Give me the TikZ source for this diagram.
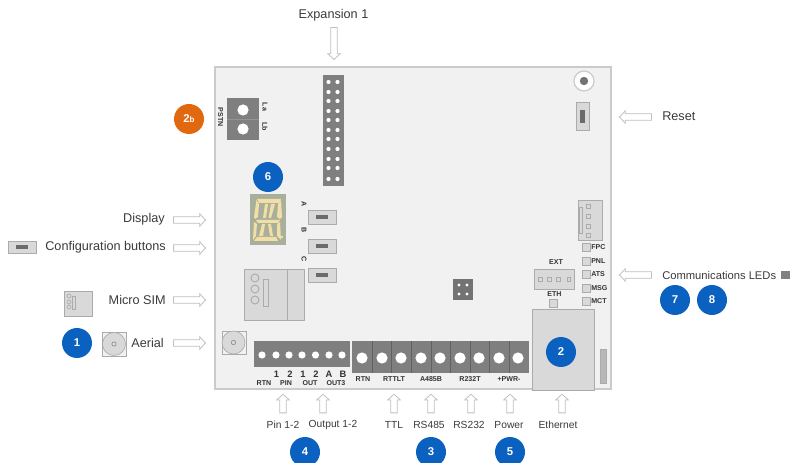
\documentclass[tikz,border=0pt]{standalone}
\usepackage{fontspec}
\setmainfont{Liberation Sans}
\usetikzlibrary{shapes.arrows}
\definecolor{txt}{HTML}{3A3A3A}
\definecolor{boardfill}{HTML}{F1F1F1}
\definecolor{boardedge}{HTML}{CBCBCB}
\definecolor{term}{HTML}{7F7F7F}
\definecolor{partfill}{HTML}{D9D9D9}
\definecolor{partedge}{HTML}{ABABAB}
\definecolor{badgeblue}{HTML}{0B61BF}
\definecolor{badgeorange}{HTML}{E2680F}
\definecolor{dispbg}{HTML}{A8B09C}
\definecolor{segm}{HTML}{F3DFA6}
\tikzset{
  x=0.75pt,y=-0.75pt,
  bigtext/.style={text=txt,font=\fontsize{9.5pt}{11pt}\selectfont,inner sep=0pt},
  smalltext/.style={text=txt,font=\fontsize{7.7pt}{9pt}\selectfont,inner sep=0pt},
  tiny/.style={text=black!80,font=\bfseries\fontsize{5.3pt}{6pt}\selectfont,inner sep=0pt},
  pinnum/.style={text=black!80,font=\bfseries\fontsize{7pt}{8pt}\selectfont,inner sep=0pt},
  badge/.style={circle,fill=badgeblue,text=white,minimum size=22.5pt,inner sep=0pt,font=\bfseries\fontsize{8.5pt}{9pt}\selectfont},
  blockarrow/.style={single arrow,draw=partedge!75,fill=white,line width=0.6pt,inner xsep=0pt,inner ysep=2.1pt,
    minimum height=#1,single arrow head extend=2.3pt,single arrow tip angle=95},
  blockarrow/.default=24pt,
  part/.style={draw=partedge,fill=partfill,line width=0.7pt},
  hole/.style={fill=white},
  seg/.style={fill=segm},
}
\newcommand{\cfgbutton}[2]{%
  \path[part] (#1,#2) rectangle ++(28,14);
  \fill[black!58] (#1+8,#2+5) rectangle ++(12,4);
}
\begin{document}
\begin{tikzpicture}
\useasboundingbox (0,0) rectangle (793,463);
% board
\path[fill=boardfill,draw=boardedge,line width=0.9pt] (215,67) rectangle (611,389);
% expansion header
\fill[term] (323,75) rectangle (344,186);
\foreach \y in {82,92,101,111,120,130,139,149,159,168,179}{
  \fill[hole] (328.5,\y) circle (2.1);
  \fill[hole] (337.5,\y) circle (2.1);
}
% PSTN
\fill[term] (227,98) rectangle (259,140);
\draw[black!42,line width=0.6pt] (227,119) -- (259,119);
\fill[hole] (243,110) circle (5.6);
\fill[hole] (243,129) circle (5.6);
\node[tiny,rotate=-90] (pstn) at (220.5,117) {PSTN};
\node[tiny,rotate=-90] (la) at (265,107) {La};
\node[tiny,rotate=-90] (lb) at (265,127) {Lb};
% display
\fill[dispbg] (250,194) rectangle (286,245);
\begin{scope}
  \fill[seg] (257,199) -- (281,199) -- (279,203) -- (259,203) -- cycle;
  \fill[seg] (256.5,200) -- (259,204) -- (258,217) -- (255,219) -- (254,217) -- cycle;
  \fill[seg] (281,200) -- (282,217) -- (280,219) -- (277,217) -- (278,204) -- cycle;
  \fill[seg] (256,220) -- (280,220) -- (278,223) -- (258,223) -- cycle;
  \fill[seg] (254,222) -- (257,224) -- (256,236) -- (253,240) -- cycle;
  \fill[seg] (280,222) -- (281,240) -- (277,236) -- (277,224) -- cycle;
  \fill[seg] (254,241) -- (278,241) -- (276,237) -- (257,237) -- cycle;
  \fill[seg] (265,204) -- (268,204) -- (266,218) -- (263,218) -- cycle;
  \fill[seg] (271,204) -- (275,204) -- (271,218) -- (268.5,218) -- cycle;
  \fill[seg] (262,224) -- (265,224) -- (263,236) -- (259,236) -- cycle;
  \fill[seg] (268,224) -- (271,224) -- (273,236) -- (270,236) -- cycle;
  \fill[seg] (282,237) circle (1.4);
\end{scope}
\node[badge] (b6) at (268,177) {6};
% config buttons
\cfgbutton{308}{210}
\cfgbutton{308}{239}
\cfgbutton{308}{268}
\node[tiny,rotate=-90] (ba) at (304,204) {A};
\node[tiny,rotate=-90] (bb) at (304,230) {B};
\node[tiny,rotate=-90] (bc) at (304,259) {C};
% SIM
\path[part] (244,269) rectangle (304,320);
\draw[partedge,line width=0.7pt] (287,269) -- (287,320);
\foreach \y in {278,289,300}{\draw[partedge,line width=0.7pt] (255,\y) circle (4);}
\draw[partedge,line width=0.7pt] (263,279) rectangle (268,306);
% aerial
\draw[partedge,fill=boardfill,line width=0.5pt] (222,331) rectangle (246,354);
\draw[partedge,fill=partfill,line width=0.5pt] (233.5,342.5) circle (11.5);
\draw[black!50,line width=0.4pt] (233.5,342.5) circle (2.2);
% terminal block left
\fill[term] (254,341) rectangle (350,367);
\foreach \x in {262,276,289,302,315.5,329,342}{\fill[hole] (\x,355) circle (3.6);}
\node[pinnum] (n1) at (276.5,374) {1};
\node[pinnum] (n2) at (290,374) {2};
\node[pinnum] (n3) at (303,374) {1};
\node[pinnum] (n4) at (316,374) {2};
\node[pinnum] (n5) at (329,374) {A};
\node[pinnum] (n6) at (343,374) {B};
\node[tiny] (t1) at (264,383) {RTN};
\node[tiny] (t2) at (286,383) {PIN};
\node[tiny] (t3) at (310,383) {OUT};
\node[tiny] (t4) at (336,383) {OUT3};
% terminal block right
\fill[term] (352,341) rectangle (529,373);
\foreach \x in {372,391.5,411,431,450,470,489,509}{\draw[black!62,line width=0.5pt] (\x,341) -- (\x,373);}
\foreach \x in {362,382,401,421,440,460,479,499,518}{\fill[hole] (\x,358) circle (5.6);}
\node[tiny] (t5) at (363,379) {RTN};
\node[tiny] (t6) at (394,379) {RTTLT};
\node[tiny] (t7) at (431,379) {A485B};
\node[tiny] (t8) at (470,379) {R232T};
\node[tiny] (t9) at (509,379) {+PWR-};
% ethernet
\path[part] (532,309) rectangle (594,390);
\draw[partedge,fill=black!28,line width=0.6pt] (600,349) rectangle (606,383);
\node[badge] (b2) at (561,352) {2};
% reset
\draw[boardedge,fill=white,line width=0.9pt] (584,81) circle (10);
\fill[black!55] (584,81) circle (4.2);
\path[part] (576,102) rectangle (589,130);
\fill[black!58] (580,110) rectangle (585,123);
% connector top right
\path[part] (578,200) rectangle (602,240);
\foreach \y in {206,216,226,235}{\draw[partedge,line width=0.5pt] (586,\y-2) rectangle ++(4,4);}
\draw[partedge,line width=0.6pt] (579,207) rectangle (582,233);
% LEDs
\foreach \y/\t/\n in {243/FPC/l1,257/PNL/l2,270/ATS/l3,284/MSG/l4,297/MCT/l5}{
  \draw[partedge,fill=partfill,line width=0.5pt] (582,\y) rectangle ++(8,8);
  \node[tiny,anchor=west] (\n) at (591,\y+4) {\t};
}
% EXT
\node[tiny] (ext) at (556,262) {EXT};
\path[part] (534,269) rectangle (574,289);
\foreach \x in {540.5,549.5,558.5,569}{\draw[partedge,line width=0.5pt] (\x-1.8,277.5) rectangle ++(3.6,3.6);}
\node[tiny] (eth) at (554.5,294) {ETH};
\draw[partedge,fill=partfill,line width=0.5pt] (549,299) rectangle (557,307);
% centre part
\fill[black!55] (453,279) rectangle (473,300);
\foreach \x/\y in {459/285,467/285,459/294,467/294}{\fill[hole] (\x,\y) circle (1.7);}
% top label
\node[bigtext] (exp) at (333.5,15) {Expansion 1};
\node[blockarrow,rotate=-90] (aexp) at (334,42) {};
% left labels
\node[bigtext,anchor=east] (lblD) at (165,219) {Display};
\node[blockarrow] (aD) at (188,220) {};
\node[bigtext,anchor=east] (lblC) at (166,247) {Configuration buttons};
\node[blockarrow] (aC) at (188,248) {};
\node[bigtext,anchor=east] (lblS) at (166,300) {Micro SIM};
\node[blockarrow] (aS) at (188,300) {};
\node[bigtext,anchor=east] (lblA) at (164,343) {Aerial};
\node[blockarrow] (aA) at (188,343) {};
\path[fill=partfill,draw=partedge,line width=0.7pt] (8,241) rectangle (36,253);
\fill[black!58] (16,245) rectangle (28,249);
\path[fill=partfill,draw=partedge,line width=0.7pt] (64,291) rectangle (92,316);
\foreach \y in {296,302,307}{\draw[partedge,line width=0.5pt] (69,\y) circle (2);}
\draw[partedge,line width=0.5pt] (72.5,296) rectangle (75.5,309);
\draw[partedge,fill=boardfill,line width=0.5pt] (102.5,332) rectangle (126,356);
\draw[partedge,fill=partfill,line width=0.5pt] (114,344) circle (11.5);
\draw[black!50,line width=0.4pt] (114,344) circle (2.2);
\node[badge] (b1) at (77,343) {1};
% PSTN badge
\node[badge,fill=badgeorange] (b2b) at (189,119) {2{\fontsize{6pt}{7pt}\selectfont b}};
% right labels
\node[blockarrow,rotate=180] (aR) at (637,117) {};
\node[bigtext,anchor=west] (lblR) at (662,116) {Reset};
\node[blockarrow,rotate=180] (aL) at (637,275) {};
\node[bigtext,anchor=west,font=\fontsize{8.4pt}{11pt}\selectfont] (lblL) at (662,275) {Communications LEDs};
\fill[black!50] (781,271) rectangle (790,279);
\node[badge] (b7) at (675,300) {7};
\node[badge] (b8) at (712,300) {8};
% bottom arrows and labels
\foreach \x/\n in {283/u1,323/u2,394/u3,431/u4,471/u5,510/u6,562/u7}{
  \node[blockarrow=14pt,rotate=90] (\n) at (\x,405) {};
}
\node[smalltext] (p1) at (283,425) {Pin 1-2};
\node[smalltext] (p2) at (333,425) {Output 1-2};
\node[smalltext] (p3) at (394,425) {TTL};
\node[smalltext] (p4) at (429,425) {RS485};
\node[smalltext] (p5) at (469,425) {RS232};
\node[smalltext] (p6) at (509,425) {Power};
\node[smalltext] (p7) at (558,425) {Ethernet};
\node[badge] (b4) at (305,452) {4};
\node[badge] (b3) at (431,452) {3};
\node[badge] (b5) at (510,452) {5};
\end{tikzpicture}
\end{document}
